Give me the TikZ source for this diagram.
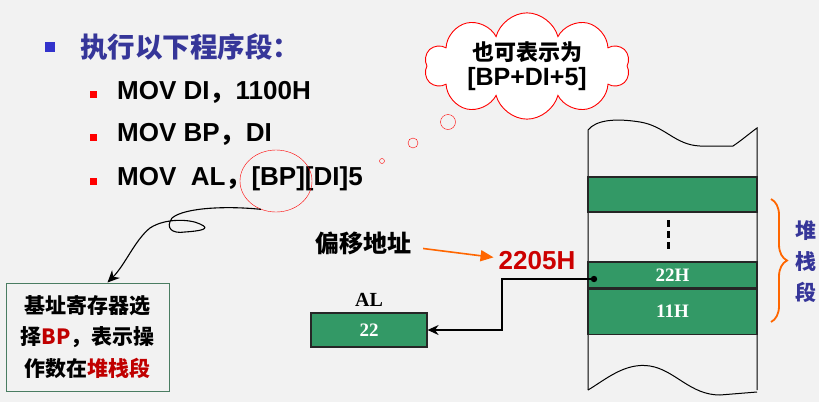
\documentclass[tikz,border=0pt]{standalone}
\usepackage{fontspec}
\setmainfont{Liberation Sans}
\newfontfamily\cjk{Noto Sans CJK SC}
\newfontfamily\serifb{Liberation Serif}
\usetikzlibrary{arrows.meta, positioning, shapes.geometric, shapes.symbols, decorations.pathreplacing}
\definecolor{PageBg}{HTML}{F2F2F2}
\definecolor{HeadBlue}{HTML}{363699}
\definecolor{BulletBlue}{HTML}{3333CC}
\definecolor{MemGreen}{HTML}{339966}
\definecolor{AddrRed}{HTML}{CC0000}
\definecolor{NoteRed}{HTML}{C00000}
\definecolor{BraceOrange}{HTML}{FF6600}
\definecolor{NoteEdge}{HTML}{4A7D62}
\tikzset{
  headtxt/.style={anchor=west, inner sep=0pt, text=HeadBlue,
    font=\cjk\bfseries\fontsize{27.5}{30}\selectfont},
  asmline/.style={anchor=west, inner sep=0pt,
    font=\bfseries\fontsize{26}{30}\selectfont},
  rbullet/.style={fill=red, minimum size=7pt, inner sep=0pt},
  cellbox/.style={draw=black!85, line width=1.2pt, fill=MemGreen, minimum width=169pt,
    inner sep=0pt, text=white, font=\serifb\bfseries\fontsize{19}{22}\selectfont},
  notebox/.style={draw=NoteEdge, line width=1pt, minimum width=163pt, minimum height=108pt,
    align=center, inner sep=0pt, font=\cjk\bfseries\fontsize{21}{31.5}\selectfont},
  puff/.style={circle, draw=red, inner sep=0pt},
  conn/.style={-{Stealth[length=11pt,width=10pt]}, line width=1.3pt},
  flowo/.style={-{Triangle[length=13pt,width=11pt]}, line width=1.6pt, draw=BraceOrange},
}

\begin{document}
\begin{tikzpicture}[x=1pt, y=-1pt]
  \useasboundingbox (0,0) rectangle (819,402);
  \fill[PageBg] (0,0) rectangle (819,402);

  % program lines
  \node[fill=BulletBlue, minimum size=10pt, inner sep=0pt] (hb) at (50,47) {};
  \node[headtxt] (head) at (80,47) {执行以下程序段：};
  \node[rbullet] (b1) at (93,94) {};
  \node[rbullet] (b2) at (93,137) {};
  \node[rbullet] (b3) at (93,181) {};
  \node[asmline] (l1) at (117,92) {MOV DI{\cjk ，}1100H};
  \node[asmline] (l2) at (117,134) {MOV BP{\cjk ，}DI};
  \node[asmline] (l3) at (117,179) {MOV\ \ AL{\cjk ，}[BP][DI]5};
  \node[ellipse, draw=red, minimum width=72pt, minimum height=62pt, inner sep=0pt] (mark) at (276,181) {};

  % thought cloud
  \node[puff, minimum size=5pt] (p1) at (382,161) {};
  \node[puff, minimum size=10pt] (p2) at (413,143) {};
  \node[puff, minimum size=15pt] (p3) at (448,122) {};
  \node[cloud, cloud puffs=10, cloud ignores aspect, draw=red, line width=0.9pt, fill=white,
    minimum width=205pt, minimum height=92pt, align=center, inner sep=0pt] (cloud) at (527,66)
    {{\cjk\bfseries\fontsize{22}{26}\selectfont 也可表示为}\\[4pt]
     {\bfseries\fontsize{25}{28}\selectfont [BP+DI+5]}};

  % note box
  \node[notebox] (note) at (87.5,337)
    {基址寄存器选\\择{\color{NoteRed}BP}，表示操\\作数在{\color{NoteRed}堆栈段}};
  \draw[-{Stealth[length=12pt,width=11pt]}, line width=1.1pt] (mark.-118)
    .. controls (230,206) and (185,207) .. (172,218)
    .. controls (165,228) and (172,234) .. (185,232)
    .. controls (200,231) and (212,229) .. (200,224)
    .. controls (190,219) and (165,218) .. (150,228)
    .. controls (135,240) and (125,265) .. ([xshift=20pt]note.north);

  % memory column
  \draw[line width=1pt] (588,390) -- (588,130)
    .. controls (596,120) and (615,118) .. (640,122)
    .. controls (665,126) and (675,145) .. (700,146) -- (733,146)
    .. controls (742,140) and (750,133) .. (757,128) -- (757,390);
  \draw[line width=1pt] (588,390)
    .. controls (605,380) and (625,362) .. (650,366)
    .. controls (675,370) and (690,395) .. (720,395) -- (757,392);
  \node[cellbox, minimum height=35pt] (cellA) at (672.5,194.5) {};
  \node[cellbox, minimum height=26pt] (cellB) at (672.5,275) {22H};
  \node[cellbox, minimum height=45pt, below=0pt of cellB] (cellC) {11H};
  \draw[line width=3pt, dash pattern=on 7pt off 4pt] (668,220) -- (668,251);

  % brace
  \draw[BraceOrange, line width=1.8pt, decorate, decoration={brace, amplitude=16pt}]
    (771,199) -- (771,322);
  \node[align=center, inner sep=0pt, text=HeadBlue,
    font=\cjk\bfseries\fontsize{21}{31}\selectfont] (stk) at (806,262) {堆\\栈\\段};

  % address and AL
  \node[inner sep=0pt, font=\cjk\bfseries\fontsize{24}{28}\selectfont] (offs) at (363,243) {偏移地址};
  \node[inner sep=0pt, text=AddrRed, font=\bfseries\fontsize{26}{30}\selectfont] (addr) at (537,261) {2205H};
  \draw[flowo, shorten <=12pt, shorten >=5pt] ([yshift=-4pt]offs.east) -- ([yshift=3pt]addr.west);

  \node[cellbox, minimum width=116pt, minimum height=34pt] (alreg) at (369,330) {22};
  \node[inner sep=0pt, above=6pt of alreg, font=\serifb\bfseries\fontsize{20}{24}\selectfont] (allbl) {AL};
  \coordinate (src) at (594,279);
  \fill (src) circle (3.2pt);
  \draw[conn] (src) -- ++(-92,0) |- (alreg.east);
\end{tikzpicture}
\end{document}
